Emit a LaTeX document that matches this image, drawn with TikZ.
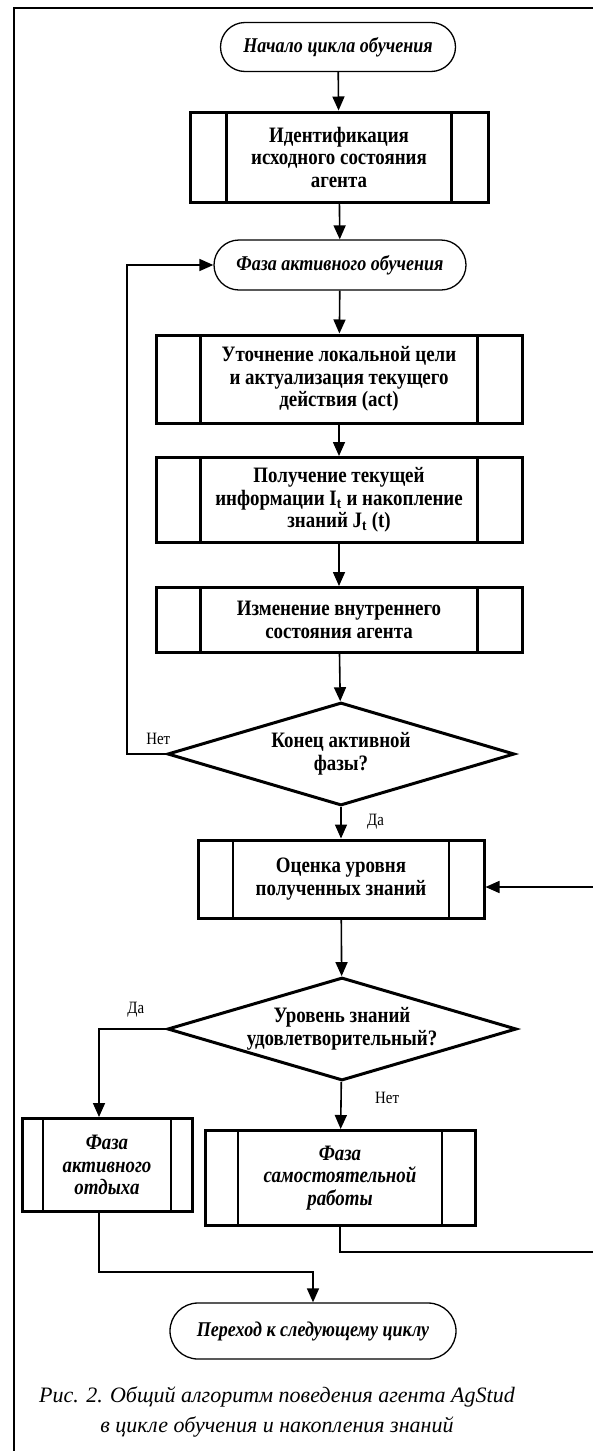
\documentclass[tikz,border=0pt]{standalone}
\usepackage{fontspec}
\setmainfont{Liberation Serif}[FakeStretch=0.86]
\newfontfamily\capfont{Liberation Serif}
\usetikzlibrary{shapes.geometric,shapes.misc,arrows.meta,calc}

\begin{document}
\begin{tikzpicture}[x=1pt,y=-1pt]
	\clip (0,0) rectangle (593,1451);
	\tikzstyle{term} = [rounded rectangle, draw, line width=1.3pt, inner sep=2pt, font=\fontsize{21}{22}\selectfont\bfseries\itshape]
	\tikzstyle{subproc} = [draw, line width=3pt, inner sep=2pt, align=center, font=\fontsize{22}{22.5}\selectfont\bfseries,
		path picture={\draw[line width=2.4pt]
			($(path picture bounding box.south west)!0.122!(path picture bounding box.south east)$) -- ($(path picture bounding box.north west)!0.122!(path picture bounding box.north east)$)
			($(path picture bounding box.south west)!0.878!(path picture bounding box.south east)$) -- ($(path picture bounding box.north west)!0.878!(path picture bounding box.north east)$);}]
	\tikzstyle{decide} = [diamond, draw, line width=3pt, inner sep=0pt, aspect=3.4, align=center, font=\fontsize{22}{22.5}\selectfont\bfseries]
	\tikzstyle{arr} = [line width=1.6pt, -{Triangle[length=14pt,width=12pt]}]
	\tikzstyle{lbl} = [font=\fontsize{17.3}{18}\selectfont]
	\draw[line width=1.5pt] (14,1460) -- (14,8) -- (600,8);
	\node[term, minimum width=239, minimum height=49] (start) at (338,47) {Начало цикла обучения};
	\node[subproc, minimum width=298, minimum height=90] (ident) at (339,157) {Идентификация\\исходного состояния\\агента};
	\node[term, minimum width=256, minimum height=50] (active) at (340,265) {Фаза активного обучения};
	\node[subproc, minimum width=366, minimum height=88] (goal) at (339,379) {Уточнение локальной цели\\и актуализация текущего\\действия (act)};
	\node[subproc, minimum width=366, minimum height=85] (info) at (339,500) {Получение текущей\\информации I\textsubscript{t} и накопление\\знаний J\textsubscript{t} (t)};
	\node[subproc, minimum width=366, minimum height=65] (state) at (339,620) {Изменение внутреннего\\состояния агента};
	\node[decide, minimum width=347, minimum height=103] (endact) at (341,754) {Конец активной\\фазы?};
	\node[subproc, minimum width=286, minimum height=78] (level) at (341,879) {Оценка уровня\\полученных знаний};
	\node[decide, minimum width=349, minimum height=103] (enough) at (342,1029) {Уровень знаний\\удовлетворительный?};
	\node[subproc, minimum width=170, minimum height=93, font=\fontsize{22}{22.5}\selectfont\bfseries\itshape] (rest) at (107,1165) {Фаза\\активного\\отдыха};
	\node[subproc, minimum width=270, minimum height=95, font=\fontsize{22}{22.5}\selectfont\bfseries\itshape] (self) at (340,1178) {Фаза\\самостоятельной\\работы};
	\node[term, minimum width=290, minimum height=56] (next) at (313,1331) {Переход к следующему циклу};
	\node[align=center, font=\capfont\fontsize{22}{30}\selectfont\itshape] (caption) at (277,1412) {Рис. 2. Общий алгоритм поведения агента AgStud\\в цикле обучения и накопления знаний};
	\coordinate (loopx) at (127,0);
	\coordinate (restx) at (99,0);
	\coordinate (rbot) at (610,1252);
	\coordinate (rtop) at (610,887);
	\coordinate (merge) at (313,1272);
	\draw[arr] (start) -- (ident);
	\draw[arr] (ident) -- (active);
	\draw[arr] (active) -- (goal);
	\draw[arr] (goal) -- (info);
	\draw[arr] (info) -- (state);
	\draw[arr] (state) -- (endact);
	\draw[arr] (endact.west) -- node[lbl, above=5pt, pos=0.2] {Нет} (endact.west -| loopx) |- (active.west);
	\draw[arr] (endact) -- node[lbl, right=22pt, pos=0.45] {Да} (level);
	\draw[arr] (level) -- (enough);
	\draw[arr] (enough.west) -- node[lbl, above=8pt, pos=0.45] {Да} (enough.west -| restx) -- (rest.north -| restx);
	\draw[arr] (enough) -- node[lbl, right=30pt, pos=0.35] {Нет} (self);
	\draw[arr] (self.south) |- (rbot) -- (rtop) -- (rtop -| level.east);
	\draw[arr] (rest.south -| restx) |- (merge) -- (next);
\end{tikzpicture}
\end{document}
